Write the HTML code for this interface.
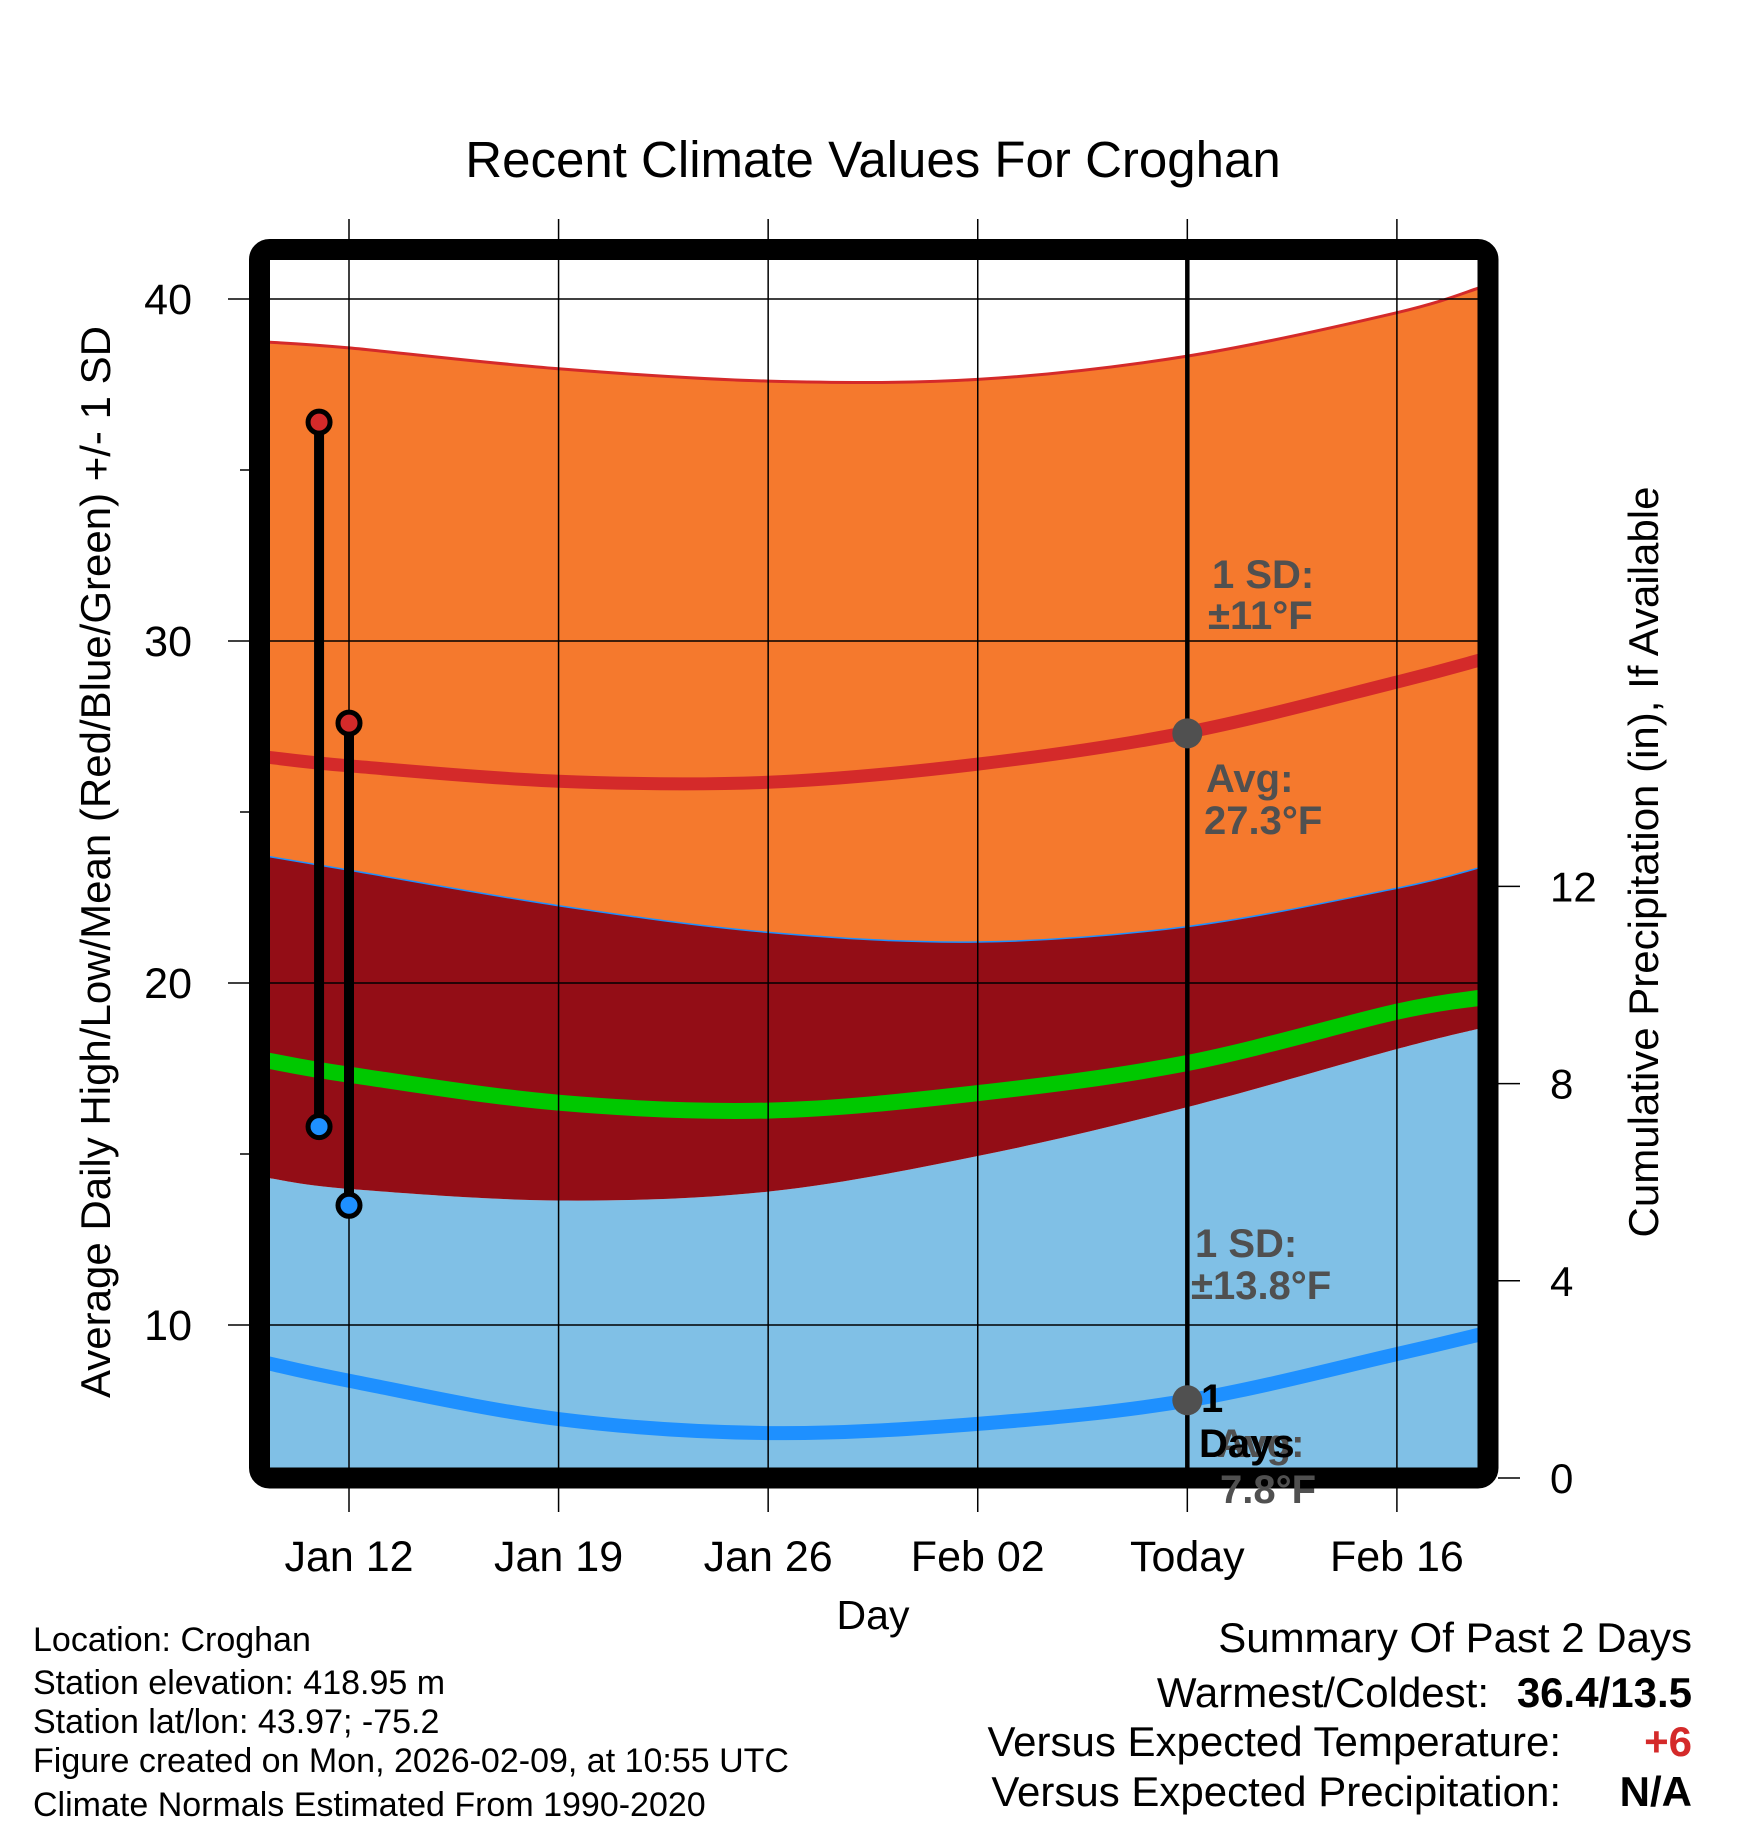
<!DOCTYPE html>
<html><head><meta charset="utf-8">
<style>
html,body{margin:0;padding:0;background:#fff;}
svg{display:block;font-family:"Liberation Sans",Arial,sans-serif;}
</style></head>
<body>
<svg id="chart" width="1748" height="1828" viewBox="0 0 1748 1828" xmlns="http://www.w3.org/2000/svg">
<defs><clipPath id="plotclip"><rect x="270" y="260" width="1208" height="1208"/></clipPath></defs>
<rect x="0" y="0" width="1748" height="1828" fill="#fff"/>
<text x="873" y="177" font-size="51" text-anchor="middle">Recent Climate Values For Croghan</text>
<g id="plot" clip-path="url(#plotclip)"></g>
<g id="grid"></g>
<g id="marks"></g>
<rect x="259.5" y="249.5" width="1228.5" height="1228.5" rx="10" fill="none" stroke="#000" stroke-width="21"/>
<g id="axes"></g>
<g id="annot" font-weight="bold" font-size="40" fill="#505050">
<text x="1212" y="588">1 SD:</text>
<text x="1208" y="629">±11°F</text>
<text x="1206" y="792">Avg:</text>
<text x="1204" y="834">27.3°F</text>
<text x="1195" y="1257">1 SD:</text>
<text x="1191" y="1299">±13.8°F</text>
<text x="1217" y="1457">Avg:</text>
<text x="1220" y="1503">7.8°F</text>
<text x="1201" y="1412" fill="#000">1</text>
<text x="1199" y="1457" fill="#000">Days</text>
</g>
<text x="873" y="1629" font-size="41" text-anchor="middle">Day</text>
<text transform="translate(110,862) rotate(-90)" font-size="42" text-anchor="middle">Average Daily High/Low/Mean (Red/Blue/Green) +/- 1 SD</text>
<text transform="translate(1658,862) rotate(-90)" font-size="42" text-anchor="middle">Cumulative Precipitation (in), If Available</text>
<g font-size="34">
<text x="33" y="1651">Location: Croghan</text>
<text x="33" y="1694">Station elevation: 418.95 m</text>
<text x="33" y="1733">Station lat/lon: 43.97; -75.2</text>
<text x="33" y="1772">Figure created on Mon, 2026-02-09, at 10:55 UTC</text>
<text x="33" y="1816">Climate Normals Estimated From 1990-2020</text>
</g>
<g font-size="42">
<text x="1692" y="1652" text-anchor="end">Summary Of Past 2 Days</text>
<text x="1489" y="1707" text-anchor="end">Warmest/Coldest:</text>
<text x="1692" y="1707" text-anchor="end" font-weight="bold">36.4/13.5</text>
<text x="1561" y="1756" text-anchor="end">Versus Expected Temperature:</text>
<text x="1692" y="1756" text-anchor="end" font-weight="bold" fill="#d42a2a">+6</text>
<text x="1561" y="1806" text-anchor="end">Versus Expected Precipitation:</text>
<text x="1692" y="1806" text-anchor="end" font-weight="bold">N/A</text>
</g>
</svg>
<script>
// days relative to Jan 12
const days = [-2.7, 0, 7, 14, 21, 28, 35, 37.8];
const highUpper = [38.74, 38.57, 37.96, 37.6, 37.65, 38.33, 39.6, 40.34];
const highAvg = [26.6, 26.35, 25.9, 25.87, 26.4, 27.33, 28.8, 29.45];
const highLower = [23.7, 23.3, 22.26, 21.48, 21.2, 21.65, 22.77, 23.38];
const meanAvg = [17.73, 17.32, 16.5, 16.27, 16.78, 17.66, 19.16, 19.57];
const lowUpper = [14.3, 13.98, 13.64, 13.9, 14.94, 16.37, 18.07, 18.68];
const lowAvg = [8.88, 8.37, 7.25, 6.84, 7.11, 7.79, 9.15, 9.73];
const obsDays = [-1, 0];
const obsHigh = [36.4, 27.6];
const obsLow = [15.8, 13.5];
const todayDay = 28;
const todayHigh = 27.3;
const todayLow = 7.8;
const xTickDays = [0, 7, 14, 21, 28, 35];
const xTickLabels = ["Jan 12", "Jan 19", "Jan 26", "Feb 02", "Today", "Feb 16"];
const yTicks = [10, 20, 30, 40];
const yMinor = [15, 25, 35];
const y2Ticks = [0, 4, 8, 12];

const NS = "http://www.w3.org/2000/svg";
function X(d){ return 349 + d * 29.94; }
function Y(v){ return 299 + (40 - v) * 34.2; }
function Y2(p){ return 1478 - p * 49.3; }
function mk(tag, attrs, parent){
  const e = document.createElementNS(NS, tag);
  for (const k in attrs) e.setAttribute(k, attrs[k]);
  parent.appendChild(e); return e;
}
function pts(vals){ return days.map((d,i)=>[X(d), Y(vals[i])]); }
function curve(p){
  let s = "M" + p[0][0] + "," + p[0][1];
  for (let i=0;i<p.length-1;i++){
    const p0=p[Math.max(i-1,0)], p1=p[i], p2=p[i+1], p3=p[Math.min(i+2,p.length-1)];
    const c1=[p1[0]+(p2[0]-p0[0])/6, p1[1]+(p2[1]-p0[1])/6];
    const c2=[p2[0]-(p3[0]-p1[0])/6, p2[1]-(p3[1]-p1[1])/6];
    s += " C"+c1[0]+","+c1[1]+" "+c2[0]+","+c2[1]+" "+p2[0]+","+p2[1];
  }
  return s;
}
function rev(p){ return p.slice().reverse(); }
function band(top, bottom){
  const a = curve(pts(top));
  const b = bottom ? curve(rev(pts(bottom))).replace(/^M/, " L") : " L"+X(days[days.length-1])+",1500 L"+X(days[0])+",1500";
  return a + b + " Z";
}
const plot = document.getElementById('plot');
let e;
e = mk('path', {'d': band(lowUpper, null), 'fill': '#80c0e6'}, plot);


e = mk('path', {'d': band(highLower, lowUpper), 'fill': '#930d16'}, plot);


e = mk('path', {'d': band(highUpper, highLower), 'fill': '#f5792d'}, plot);


e = mk('path', {'d': curve(pts(highUpper)), 'fill': 'none', 'stroke': '#d42a2a', 'stroke-width': 3}, plot);


e = mk('path', {'d': curve(pts(highLower)), 'fill': 'none', 'stroke': '#1e90ff', 'stroke-width': 1.5}, plot);


e = mk('path', {'d': curve(pts(highAvg)), 'fill': 'none', 'stroke': '#d42a2a', 'stroke-width': 13}, plot);


e = mk('path', {'d': curve(pts(meanAvg)), 'fill': 'none', 'stroke': '#00c800', 'stroke-width': 16}, plot);


e = mk('path', {'d': curve(pts(lowAvg)), 'fill': 'none', 'stroke': '#1e90ff', 'stroke-width': 14}, plot);



const grid = document.getElementById('grid');
yTicks.forEach(v=>{
  const l = mk('line', {'x1': 228, 'x2': 1478, 'y1': Y(v), 'y2': Y(v), 'stroke': '#000', 'stroke-width': 1.5}, grid);
  
  
});
xTickDays.forEach(d=>{
  const l = mk('line', {'x1': X(d), 'x2': X(d), 'y1': 219, 'y2': 1512, 'stroke': '#000', 'stroke-width': 1.5}, grid);
  
  
});
const tl = mk('line', {'x1': X(todayDay), 'x2': X(todayDay), 'y1': 260, 'y2': 1468, 'stroke': '#000', 'stroke-width': 4.5}, grid);



const marks = document.getElementById('marks');
obsDays.forEach((d,i)=>{
  const b = mk('line', {'x1': X(d), 'x2': X(d), 'y1': Y(obsHigh[i]), 'y2': Y(obsLow[i]), 'stroke': '#000', 'stroke-width': 10}, marks);
  
  
  const h = mk('circle', {'cx': X(d), 'cy': Y(obsHigh[i]), 'r': 11, 'fill': '#d42a2a', 'stroke': '#000', 'stroke-width': 5}, marks);
  
  
  const lo = mk('circle', {'cx': X(d), 'cy': Y(obsLow[i]), 'r': 11, 'fill': '#1e90ff', 'stroke': '#000', 'stroke-width': 5}, marks);
  
  
});
e = mk('circle', {'cx': X(todayDay), 'cy': Y(todayHigh), 'r': 15, 'fill': '#505050'}, marks);


e = mk('circle', {'cx': X(todayDay), 'cy': Y(todayLow), 'r': 15, 'fill': '#505050'}, marks);



const axes = document.getElementById('axes');
yTicks.forEach(v=>{
  const t = mk('text', {'x': 192, 'y': Y(v)+15, 'font-size': 43, 'text-anchor': 'end'}, axes);
  t.textContent = v;
  
  
});
yMinor.forEach(v=>{
  const l = mk('line', {'x1': 240, 'x2': 250, 'y1': Y(v), 'y2': Y(v), 'stroke': '#000', 'stroke-width': 1.5}, axes);
  
  
});
xTickDays.forEach((d,i)=>{
  const t = mk('text', {'x': X(d), 'y': 1571, 'font-size': 43, 'text-anchor': 'middle'}, axes);
  t.textContent = xTickLabels[i];
  
  
});
y2Ticks.forEach(p=>{
  const l = mk('line', {'x1': 1498, 'x2': 1520, 'y1': Y2(p), 'y2': Y2(p), 'stroke': '#000', 'stroke-width': 1.5}, axes);
  
  
  const t = mk('text', {'x': 1550, 'y': Y2(p)+15, 'font-size': 42}, axes);
  t.textContent = p;
  
  
});
</script>
</body></html>
